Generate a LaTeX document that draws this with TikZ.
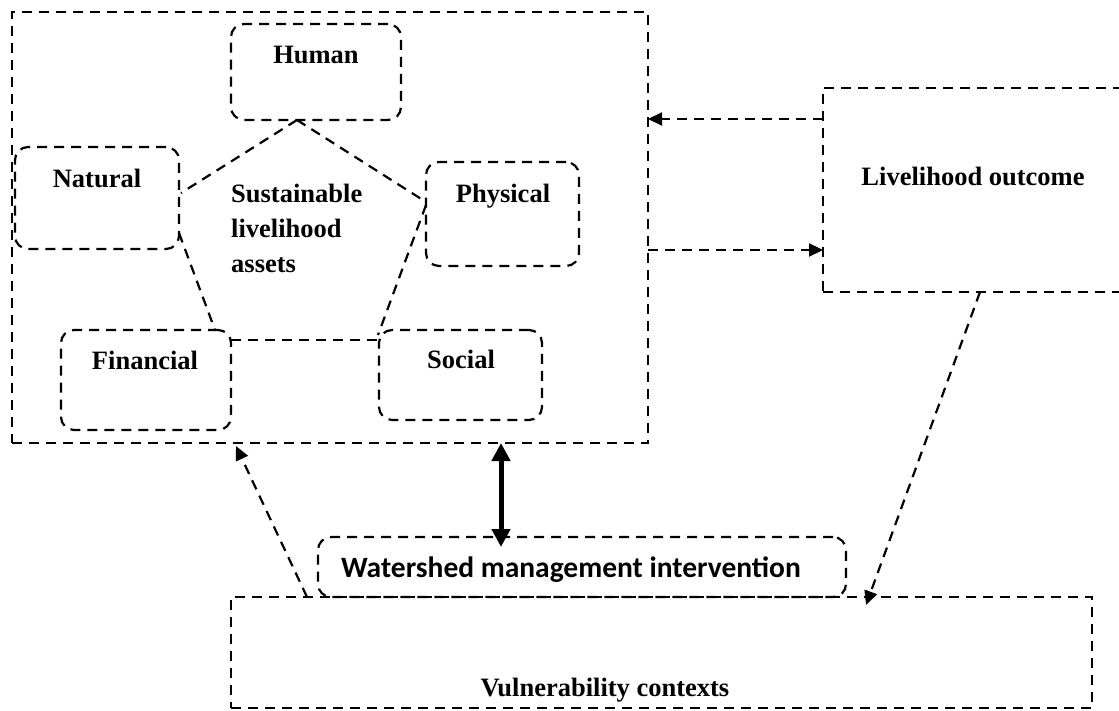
\documentclass[tikz,border=0pt]{standalone}
\usepackage{fontspec}
\setmainfont{Liberation Serif}
\newfontfamily\calib{Carlito}
\usetikzlibrary{arrows.meta,calc}
\tikzset{
  dsh/.style={line width=2.2pt, dash pattern=on 10pt off 7pt},
  sqbox/.style={dsh, draw, rectangle, inner sep=0pt, outer sep=0pt},
  rbox/.style={sqbox, rounded corners=13pt},
  lbl/.style={inner sep=0pt, font=\fontsize{26.5}{35}\selectfont\bfseries},
  darr/.style={dsh, -{Triangle[length=14pt,width=13pt]}},
  biarr/.style={line width=5pt, {Triangle[length=18pt,width=18pt]}-{Triangle[length=18pt,width=18pt]}}
}
\begin{document}
\begin{tikzpicture}[x=1pt,y=-1pt]
\clip (0,0) rectangle (1119,711);
\fill[white] (0,0) rectangle (1119,711);
% boxes
\node[sqbox, minimum width=636pt, minimum height=431pt] (outer) at (330,227.5) {};
\node[rbox, minimum width=170pt, minimum height=96pt] (human) at (316,72) {};
\node[rbox, minimum width=164pt, minimum height=102pt] (natural) at (97,198) {};
\node[rbox, minimum width=153pt, minimum height=104pt] (physical) at (502.5,214) {};
\node[rbox, minimum width=170pt, minimum height=100pt] (financial) at (146,380) {};
\node[rbox, minimum width=163pt, minimum height=90pt] (social) at (460.5,375) {};
\node[sqbox, minimum width=320pt, minimum height=204pt] (live) at (983,190) {};
\node[sqbox, minimum width=861pt, minimum height=111pt] (vuln) at (661.5,652.5) {};
\node[rbox, minimum width=528pt, minimum height=60pt] (water) at (582,567) {};
% labels
\node[lbl, anchor=base] (thuman) at (316,64) {Human};
\node[lbl, anchor=base] (tnatural) at (97,188) {Natural};
\node[lbl, anchor=base] (tphysical) at (503,203) {Physical};
\node[lbl, anchor=base] (tfinancial) at (145,369) {Financial};
\node[lbl, anchor=base] (tsocial) at (461,368) {Social};
\node[lbl, anchor=west, align=left] (tsla) at (231,228.5) {Sustainable\\livelihood\\assets};
\node[lbl, anchor=base] (tlive) at (973,186) {Livelihood outcome};
\node[lbl, anchor=base] (tvuln) at (605,696) {Vulnerability contexts};
\node[inner sep=0pt, anchor=base, font=\fontsize{29.5}{35}\calib\bfseries] (twater) at (571,577) {Watershed management intervention};
% pentagon
\draw[dsh] ($(human.south)+(-19,0)$) -- ($(natural.east)+(2,-5)$);
\draw[dsh] ($(human.south)+(-19,0)$) -- ($(physical.west)+(0,-12)$);
\draw[dsh] ($(natural.east)+(0,35)$) -- ($(financial.north east)+(-16,0)$);
\draw[dsh] ($(physical.west)+(0,-9)$) -- ($(social.north west)+(-1,5)$);
\draw[dsh] ($(financial.north east)+(0,10)$) -- ($(social.north west)+(-1,10)$);
% arrows
\draw[darr] ($(live.north west)+(0,31)$) -- ($(outer.north east)+(0,107)$);
\draw[darr] ($(outer.north east)+(0,238)$) -- ($(live.north west)+(0,162)$);
\draw[darr] ($(live.south west)+(157,0)$) -- ($(vuln.north east)+(-226,8)$);
\draw[darr] ($(vuln.north west)+(76,0)$) -- ($(outer.south west)+(224,3)$);
\draw[biarr] ($(outer.south)+(171,0)$) -- ($(water.north)+(-81,10)$);
\end{tikzpicture}
\end{document}
